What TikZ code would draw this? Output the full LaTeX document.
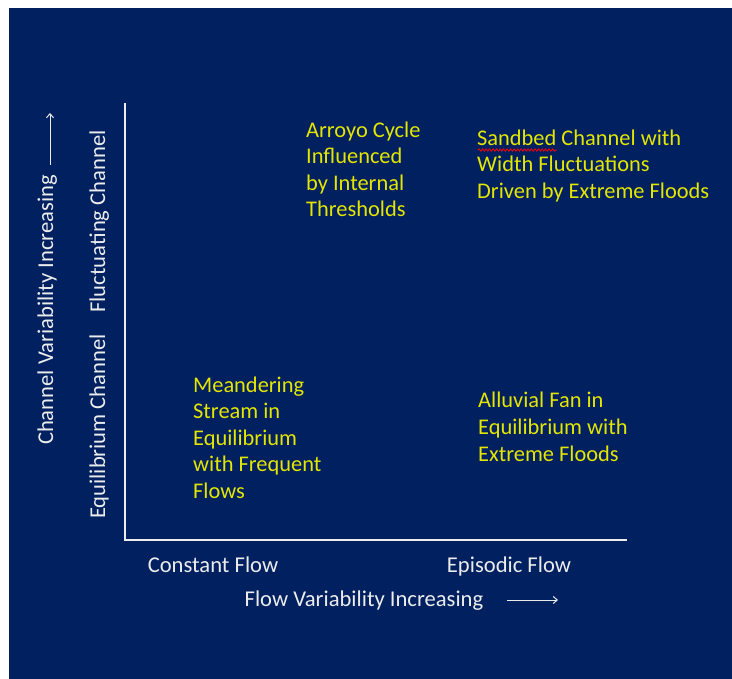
\documentclass[tikz,border=0pt]{standalone}
\usepackage{fontspec}
\setmainfont{Carlito}
\usetikzlibrary{decorations.pathmorphing,arrows.meta}
\definecolor{navy}{HTML}{002060}
\definecolor{ylw}{RGB}{228,230,0}
\definecolor{lgt}{RGB}{236,236,236}
\tikzset{
  lbl/.style={text=lgt, inner sep=0pt, font=\fontsize{22.6}{26.6}\selectfont},
  ytxt/.style={text=ylw, inner sep=0pt, align=left, anchor=base west, font=\fontsize{22.4}{26.6}\selectfont},
  axis/.style={draw=lgt, line width=1.4pt},
  thinarrow/.style={draw=lgt, line width=1pt, -{Straight Barb[length=4pt,width=7pt]}},
}
\begin{document}
\begin{tikzpicture}[x=1pt,y=-1pt]
\useasboundingbox (0,0) rectangle (732,679);
\fill[white] (0,0) rectangle (732,679);
\fill[navy] (9,8) rectangle (732,679);
% axes
\coordinate (ytop) at (125,103);
\coordinate (orig) at (125,540);
\coordinate (xend) at (627,540);
\draw[axis] (ytop) -- (orig) -- (xend);
% axis labels
\node[lbl, anchor=base] (cf) at (213,572) {Constant Flow};
\node[lbl, anchor=base] (ef) at (509,572) {Episodic Flow};
\node[lbl, anchor=base] (fvi) at (364,606) {Flow Variability Increasing};
\coordinate (xa1) at (507,600);
\coordinate (xa2) at (558,600);
\draw[thinarrow] (xa1) -- (xa2);
\node[lbl, anchor=base, rotate=90] (cvi) at (53,310) {Channel Variability Increasing};
\coordinate (ya1) at (50,165);
\coordinate (ya2) at (50,113);
\draw[thinarrow] (ya1) -- (ya2);
\node[lbl, anchor=base, rotate=90] (eqc) at (105,426.5) {Equilibrium Channel};
\node[lbl, anchor=base, rotate=90] (flc) at (105,221.5) {Fluctuating Channel};
% quadrant texts (anchored at the baseline of their last line)
\node[ytxt] (arroyo) at (306,217) {Arroyo Cycle\\Influenced\\by Internal\\Thresholds};
\node[ytxt] (sandbed) at (477,198.5) {Sandbed Channel with\\Width Fluctuations\\Driven by Extreme Floods};
\node[ytxt] (meander) at (193,498.5) {Meandering\\Stream in\\Equilibrium\\with Frequent\\Flows};
\node[ytxt] (alluvial) at (478,461) {Alluvial Fan in\\Equilibrium with\\Extreme Floods};
% spell-check squiggle
\coordinate (sq1) at (478,150);
\coordinate (sq2) at (557,150);
\draw[red, line width=0.8pt, decorate, decoration={snake, amplitude=1.2pt, segment length=3.5pt}] (sq1) -- (sq2);
\end{tikzpicture}
\end{document}
